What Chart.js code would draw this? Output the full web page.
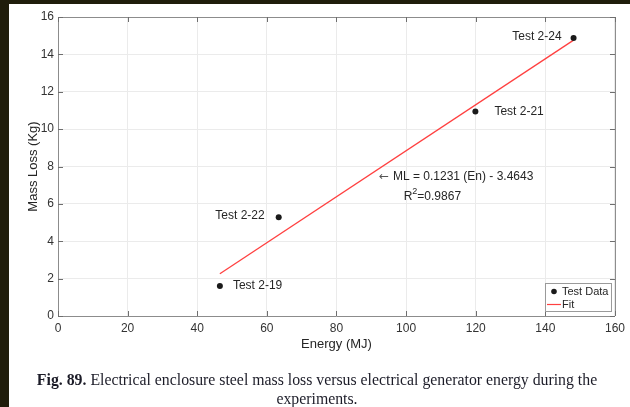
<!DOCTYPE html>
<html>
<head>
<meta charset="utf-8">
<script src="https://cdn.jsdelivr.net/npm/chart.js@4.4.1/dist/chart.umd.min.js"></script>
<style>
  html, body { margin:0; padding:0; }
  body { width:630px; height:407px; background:#201d0b; position:relative; overflow:hidden; }
  #paper { position:absolute; left:9px; top:4px; width:621px; height:403px; background:#ffffff; }
  #wrap { position:absolute; left:0; top:0; width:630px; height:407px; }
  #caption { position:absolute; left:0; width:634px; top:370px; text-align:center;
    font-family:"Liberation Serif","Times New Roman",serif; font-size:15.8px; line-height:19px; color:#1c1c28; }
</style>
</head>
<body>
<div id="paper"></div>
<div id="wrap"><canvas id="c" width="630" height="407"></canvas></div>
<div id="caption"><b>Fig. 89.</b> Electrical enclosure steel mass loss versus electrical generator energy during the<br>experiments.</div>
<script>
// ---- data ----
const energy = [46.5, 63.4, 119.9, 148.1];          // MJ
const massLoss = [1.61, 5.29, 10.94, 14.87];        // Kg
const testLabels = ['Test 2-19', 'Test 2-22', 'Test 2-21', 'Test 2-24'];
const fitEnergy = [46.5, 148];
const fitMass = [2.26, 14.75];
const xTicks = [0, 20, 40, 60, 80, 100, 120, 140, 160];
const yTicks = [0, 2, 4, 6, 8, 10, 12, 14, 16];
const fitArrow = '\u2190';
const fitEquation = 'ML = 0.1231 (En) - 3.4643';
const fitR2 = '0.9867';

const FONT = '"Liberation Sans", Arial, Helvetica, sans-serif';

const testPoints = energy.map((e, i) => ({ x: e, y: massLoss[i] }));
const fitPoints = fitEnergy.map((e, i) => ({ x: e, y: fitMass[i] }));

const decorPlugin = {
  id: 'decor',
  afterDraw(chart) {
    const ctx = chart.ctx;
    const xs = chart.scales.x, ys = chart.scales.y;
    const a = chart.chartArea;
    ctx.save();
    // box top / right
    ctx.strokeStyle = '#8c8c8c';
    ctx.lineWidth = 1;
    ctx.beginPath();
    ctx.moveTo(a.left, a.top + 0.5); ctx.lineTo(a.right + 0.5, a.top + 0.5);
    ctx.lineTo(a.right + 0.5, a.bottom);
    ctx.stroke();
    // inward ticks
    ctx.strokeStyle = '#6e6e6e';
    ctx.beginPath();
    xTicks.forEach(v => {
      const px = Math.round(xs.getPixelForValue(v)) + 0.5;
      ctx.moveTo(px, a.bottom); ctx.lineTo(px, a.bottom - 5);
      ctx.moveTo(px, a.top); ctx.lineTo(px, a.top + 5);
    });
    yTicks.forEach(v => {
      const py = Math.round(ys.getPixelForValue(v)) + 0.5;
      ctx.moveTo(a.left, py); ctx.lineTo(a.left + 5, py);
      ctx.moveTo(a.right, py); ctx.lineTo(a.right - 5, py);
    });
    ctx.stroke();

    // point labels
    ctx.fillStyle = '#262626';
    ctx.font = '12px ' + FONT;
    ctx.textBaseline = 'middle';
    const offs = [[13, 0, 'left'], [-14, -1, 'right'], [19, 0, 'left'], [-12, -1, 'right']];
    testPoints.forEach((p, i) => {
      const px = xs.getPixelForValue(p.x), py = ys.getPixelForValue(p.y);
      ctx.textAlign = offs[i][2];
      ctx.fillText(testLabels[i], px + offs[i][0], py + offs[i][1]);
    });

    // fit annotation
    ctx.textAlign = 'left';
    const ax = xs.getPixelForValue(92.2), ay = ys.getPixelForValue(7.45);
    ctx.font = '12px "DejaVu Sans", sans-serif';
    ctx.fillStyle = '#555555';
    ctx.fillText(fitArrow, ax, ay);
    ctx.fillStyle = '#262626';
    ctx.font = '12px ' + FONT;
    ctx.fillText(fitEquation, ax + 14, ay);
    const rx = xs.getPixelForValue(99.3), ry = ys.getPixelForValue(6.45);
    ctx.fillText('R', rx, ry + 1);
    const rw = ctx.measureText('R').width;
    ctx.font = '9px ' + FONT;
    ctx.fillText('2', rx + rw, ry - 4);
    const sw = ctx.measureText('2').width;
    ctx.font = '12px ' + FONT;
    ctx.fillText('=' + fitR2, rx + rw + sw, ry + 1);

    // legend
    const lx = a.right - 70, ly = a.bottom - 33, lw = 66, lh = 28;
    ctx.fillStyle = '#ffffff';
    ctx.fillRect(lx, ly, lw, lh);
    ctx.strokeStyle = '#9a9a9a';
    ctx.lineWidth = 1;
    ctx.strokeRect(lx + 0.5, ly + 0.5, lw, lh);
    ctx.fillStyle = '#1a1a1a';
    ctx.beginPath();
    ctx.arc(lx + 9, ly + 8.5, 2.8, 0, Math.PI * 2);
    ctx.fill();
    ctx.strokeStyle = '#ff4040';
    ctx.lineWidth = 1.2;
    ctx.beginPath();
    ctx.moveTo(lx + 2, ly + 21.5); ctx.lineTo(lx + 16, ly + 21.5);
    ctx.stroke();
    ctx.fillStyle = '#262626';
    ctx.font = '11px ' + FONT;
    ctx.textAlign = 'left';
    ctx.fillText(chart.data.datasets[0].label, lx + 17, ly + 9);
    ctx.fillText(chart.data.datasets[1].label, lx + 17, ly + 21.5);
    ctx.restore();
  }
};

new Chart(document.getElementById('c'), {
  type: 'scatter',
  data: {
    datasets: [
      { label: 'Test Data', data: testPoints, showLine: false,
        pointRadius: 3, pointHoverRadius: 3, pointBackgroundColor: '#1a1a1a', pointBorderWidth: 0 },
      { label: 'Fit', data: fitPoints, showLine: true, borderColor: '#ff4040', borderWidth: 1.3,
        pointRadius: 0, fill: false }
    ]
  },
  options: {
    responsive: false,
    animation: false,
    layout: { padding: { left: 0, top: 17, right: 11, bottom: 51 } },
    plugins: { legend: { display: false }, tooltip: { enabled: false } },
    scales: {
      x: {
        type: 'linear', min: 0, max: 160,
        afterBuildTicks: s => { s.ticks = xTicks.map(v => ({ value: v })); },
        afterFit: s => { s.height = 40; },
        grid: { color: '#ebebeb', drawTicks: false },
        border: { color: '#8c8c8c' },
        ticks: { padding: 5, color: '#333333', font: { family: FONT, size: 12 }, maxRotation: 0 },
        title: { display: true, text: 'Energy (MJ)', color: '#262626', font: { family: FONT, size: 13 },
                 padding: { top: 0, bottom: 4 } }
      },
      y: {
        type: 'linear', min: 0, max: 16,
        afterBuildTicks: s => { s.ticks = yTicks.map(v => ({ value: v })); },
        afterFit: s => { s.width = 58; },
        grid: { color: '#ebebeb', drawTicks: false },
        border: { color: '#8c8c8c' },
        ticks: { padding: 4, color: '#333333', font: { family: FONT, size: 12 } },
        title: { display: true, text: 'Mass Loss (Kg)', color: '#262626', font: { family: FONT, size: 13 },
                 padding: { top: 26, bottom: 0 } }
      }
    }
  },
  plugins: [decorPlugin]
});
</script>
</body>
</html>
